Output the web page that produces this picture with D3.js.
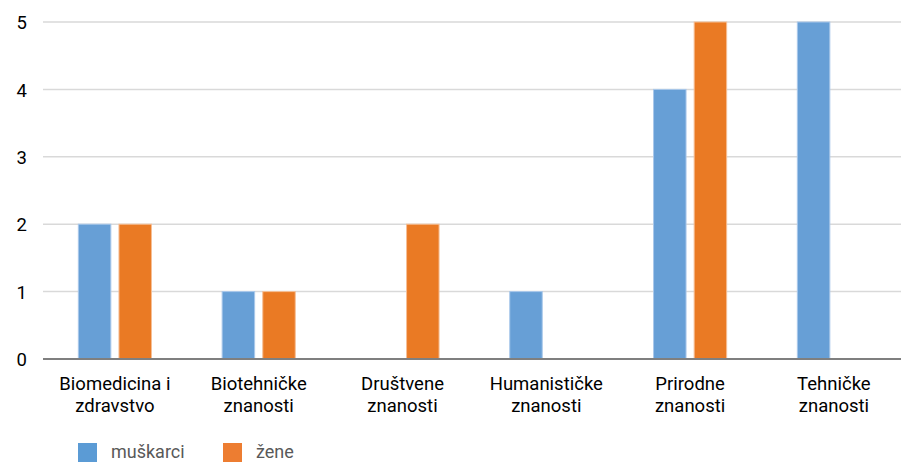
<!DOCTYPE html>
<html>
<head>
<meta charset="utf-8">
<script src="https://cdn.jsdelivr.net/npm/d3@7"></script>
<style>
  html, body { margin: 0; padding: 0; background: #fff; }
  svg { display: block; font-family: Roboto, "Open Sans", sans-serif; }
</style>
</head>
<body>
<svg id="chart" width="901" height="464"></svg>
<script>
// Broj istraživača po znanstvenom području i spolu
const categories = [
  ["Biomedicina i", "zdravstvo"],
  ["Biotehničke", "znanosti"],
  ["Društvene", "znanosti"],
  ["Humanističke", "znanosti"],
  ["Prirodne", "znanosti"],
  ["Tehničke", "znanosti"]
];
const seriesNames = ["muškarci", "žene"];
const muskarci = [2, 1, 0, 1, 4, 5];
const zene = [2, 1, 2, 0, 5, 0];
const yTicks = [0, 1, 2, 3, 4, 5];
const colors = ["#5B9BD5", "#ED7D31"];
const barColors = ["#679fd6", "#ea7a24"];

const values = [muskarci, zene];
const svg = d3.select("#chart");

const plot = { left: 43, right: 901, top: 22, bottom: 359 };
const fontSize = 18.5;

// category bands run slightly past the right edge of the grid
const x0 = d3.scaleBand()
  .domain(d3.range(categories.length))
  .range([plot.left, plot.left + 6 * 143.8])
  .padding(0);

const x1 = d3.scaleBand()
  .domain(d3.range(seriesNames.length))
  .range([0, x0.bandwidth()])
  .paddingInner(0.2)
  .paddingOuter(0.87);

const y = d3.scaleLinear()
  .domain([0, 5])
  .range([plot.bottom, plot.top]);

// horizontal gridlines
svg.append("g")
  .selectAll("line")
  .data(yTicks.filter(d => d > 0))
  .join("line")
  .attr("x1", plot.left)
  .attr("x2", plot.right)
  .attr("y1", d => y(d))
  .attr("y2", d => y(d))
  .attr("stroke", "#d9d9d9")
  .attr("stroke-width", 1.5);

// y axis labels
const yAxis = d3.axisLeft(y).tickValues(yTicks).tickFormat(d3.format("d")).tickSize(0).tickPadding(0);
const yg = svg.append("g")
  .attr("transform", "translate(27,0)")
  .call(yAxis);
yg.select(".domain").remove();
yg.selectAll("text")
  .attr("font-size", fontSize)
  .attr("font-family", "Roboto, sans-serif")
  .attr("fill", "#000")
  .attr("dy", "0.36em");

// bars
const groups = svg.append("g")
  .selectAll("g")
  .data(categories.map((c, i) => i))
  .join("g")
  .attr("transform", i => `translate(${x0(i)},0)`);

groups.selectAll("rect")
  .data(i => values.map((s, k) => ({ k, v: s[i] })).filter(d => d.v > 0))
  .join("rect")
  .attr("x", d => x1(d.k))
  .attr("width", x1.bandwidth())
  .attr("y", d => y(d.v))
  .attr("height", d => y(0) - y(d.v))
  .attr("fill", d => barColors[d.k])
  .attr("stroke", d => d.k === 0 ? "#a9c8ea" : "#f6bf96")
  .attr("stroke-width", 1);

// baseline
svg.append("line")
  .attr("x1", plot.left)
  .attr("x2", plot.right)
  .attr("y1", y(0))
  .attr("y2", y(0))
  .attr("stroke", "#7f7f7f")
  .attr("stroke-width", 2);

// category labels
const xg = svg.append("g");
categories.forEach((lines, i) => {
  const cx = x0(i) + x0.bandwidth() / 2;
  const t = xg.append("text")
    .attr("x", cx)
    .attr("y", 390)
    .attr("text-anchor", "middle")
    .attr("font-size", fontSize)
    .attr("fill", "#000");
  lines.forEach((ln, j) => {
    t.append("tspan")
      .attr("x", cx)
      .attr("dy", j === 0 ? 0 : 22)
      .text(ln);
  });
});

// legend
const legendX = [78, 223];
const lg = svg.append("g");
seriesNames.forEach((name, k) => {
  lg.append("rect")
    .attr("x", legendX[k])
    .attr("y", 443)
    .attr("width", 19)
    .attr("height", 19)
    .attr("fill", colors[k]);
  lg.append("text")
    .attr("x", legendX[k] + 33)
    .attr("y", 458)
    .attr("font-size", 18)
    .attr("fill", "#595959")
    .text(name);
});
</script>
</body>
</html>
